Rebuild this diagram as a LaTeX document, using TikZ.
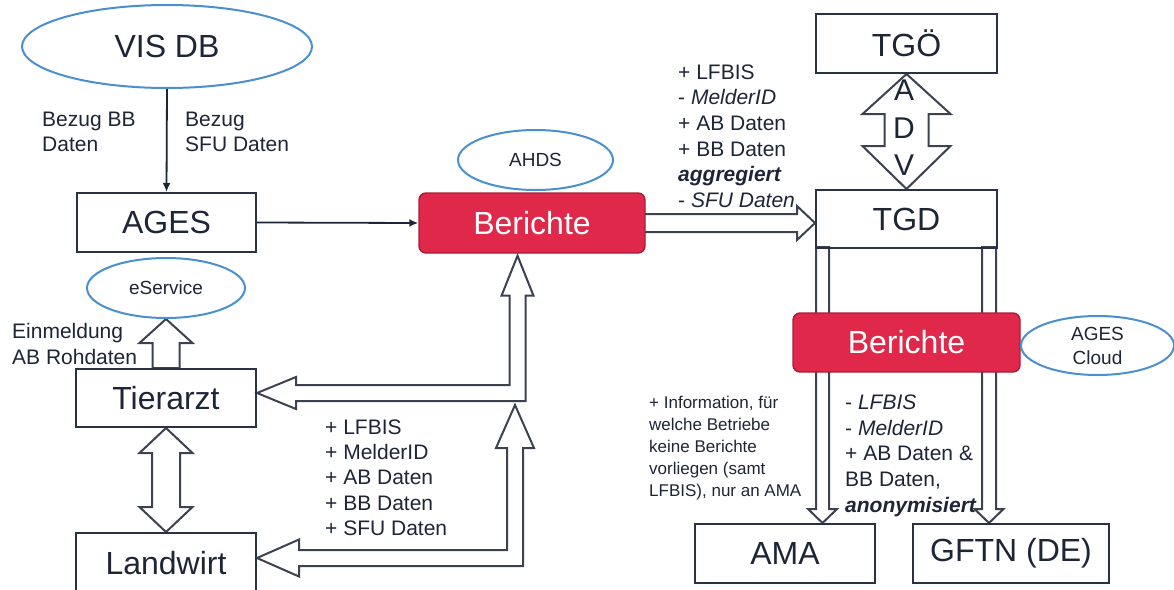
\documentclass[tikz,border=0pt]{standalone}
\usepackage{fontspec}
\setmainfont{Liberation Sans}
\usetikzlibrary{shapes.geometric,arrows.meta,calc,backgrounds}
\definecolor{ink}{HTML}{1E2536}
\definecolor{boxline}{HTML}{2A3142}
\definecolor{arrline}{HTML}{3D4250}
\definecolor{ellblue}{HTML}{4A90D0}
\definecolor{crimson}{HTML}{E0284B}
\definecolor{crimsonline}{HTML}{A81E36}
\newcommand{\myfs}[2]{\fontsize{#1}{#2}\selectfont}
\begin{document}
\begin{tikzpicture}[x=1pt,y=-1pt,
  box/.style={draw=boxline,line width=2pt,inner sep=0pt,text=ink,font=\myfs{32}{38}},
  bubble/.style={ellipse,draw=ellblue,line width=2pt,inner sep=0pt,text=ink,font=\myfs{19}{23}},
  report/.style={rounded corners=7pt,fill=crimson,draw=crimsonline,line width=1.4pt,inner sep=0pt,text=white,font=\myfs{32}{38}},
  txt/.style={inner sep=0pt,anchor=north west,align=left,text=ink,font=\myfs{21}{25.6}},
  blockarrow/.style={draw=arrline,line width=2pt,fill=white,line join=miter},
  thinarrow/.style={draw=ink,line width=1.8pt,-{Latex[length=9pt,width=8pt]}}]
\useasboundingbox (0,0) rectangle (1174,589);

% nodes
\node[bubble,minimum width=290,minimum height=83,font=\myfs{32}{38}] (visdb) at (167,46.5) {VIS DB};
\node[box,minimum width=179,minimum height=59] (ages) at (166.5,222.5) {AGES};
\node[report,minimum width=226,minimum height=60] (ber1) at (532,223) {Berichte};
\node[bubble,minimum width=155,minimum height=60] (ahds) at (535.5,160) {AHDS};
\node[box,minimum width=181,minimum height=59] (tgo) at (906.5,43.5) {TGÖ};
\node[box,minimum width=181,minimum height=58] (tgd) at (906.5,219) {TGD};
\node[bubble,minimum width=158,minimum height=60] (eserv) at (166,288) {eService};
\node[box,minimum width=180,minimum height=58] (tier) at (166,398) {Tierarzt};
\node[box,minimum width=180,minimum height=60] (land) at (166,563) {Landwirt};
\node[report,minimum width=227,minimum height=59] (ber2) at (906.5,342.5) {Berichte};
\node[bubble,minimum width=153,minimum height=59,align=center,font=\myfs{19}{24}] (cloud) at (1097.5,345.5) {AGES\\Cloud};
\node[box,minimum width=180,minimum height=59] (ama) at (785,553.5) {AMA};
\node[box,minimum width=196,minimum height=59] (gftn) at (1011,553.5) {GFTN (DE)};

% ADV letters
\node[text=ink,font=\myfs{30}{36},inner sep=0pt] (advA) at (904,90) {A};
\node[text=ink,font=\myfs{30}{36},inner sep=0pt] (advD) at (904,128) {D};
\node[text=ink,font=\myfs{30}{36},inner sep=0pt] (advV) at (904,165) {V};

% text labels
\node[txt] (bzbb) at (42,111.5) {Bezug BB\\Daten};
\node[txt] (bzsfu) at (185,111.5) {Bezug\\SFU Daten};
\node[txt,font=\myfs{21}{26}] (einm) at (12,323) {Einmeldung\\AB Rohdaten};
\node[txt,font=\myfs{21}{25.25}] (listl) at (325,419.5) {+ LFBIS\\+ MelderID\\+ AB Daten\\+ BB Daten\\+ SFU Daten};
\node[txt] (listtr) at (678,64.5) {+ LFBIS\\- \textit{MelderID}\\+ AB Daten\\+ BB Daten\\\textbf{\textit{aggregiert}}\\- \textit{SFU Daten}};
\node[txt,font=\myfs{17}{22}] (amanote) at (649,396) {+ Information, für\\welche Betriebe\\keine Berichte\\vorliegen (samt\\LFBIS), nur an AMA};
\node[txt,font=\myfs{21}{25.75}] (listr) at (845,394.5) {- \textit{LFBIS}\\- \textit{MelderID}\\+ AB Daten \&\\BB Daten,\\\textbf{\textit{anonymisiert}}};

% thin arrows
\draw[thinarrow] (visdb.south) -- (ages.north);
\draw[thinarrow] (ages.east) -- (ber1.west);

% block arrows
\begin{scope}[on background layer]
\fill[white] (0,0) rectangle (1174,589);
% ADV double arrow
\coordinate (advT) at (tgo.south);
\coordinate (advB) at (tgd.north);
\draw[blockarrow] (advT) -- ++(44,40) -- ++(-22,0) -- ($(advB)+(22,-43)$) -- ++(22,0) -- (advB) -- ++(-44,-43) -- ++(22,0) -- ($(advT)+(-22,40)$) -- ++(-22,0) -- cycle;
% Berichte -> TGD
\coordinate (r1s) at (ber1.east);
\coordinate (r1t) at (tgd.west |- ber1.east);
\draw[blockarrow] ($(r1s)+(-2,-9)$) -- ($(r1t)+(-18,-9)$) -- ++(0,-8) -- (r1t) -- ++(-18,17) -- ++(0,-8) -- ($(r1s)+(-2,9)$) -- cycle;
% TGD -> AMA
\coordinate (dl) at ($(tgd.south west)+(7.5,0)$);
\coordinate (dlt) at (dl |- ama.north);
\draw[blockarrow] ($(dl)+(-6.5,-2)$) -- ($(dlt)+(-6.5,-14)$) -- ++(-8,0) -- (dlt) -- ++(14.5,-14) -- ++(-8,0) -- ($(dl)+(6.5,-2)$) -- cycle;
% TGD -> GFTN
\coordinate (dr) at ($(tgd.south east)+(-9,0)$);
\coordinate (drt) at (dr |- gftn.north);
\draw[blockarrow] ($(dr)+(-7,-2)$) -- ($(drt)+(-7,-14)$) -- ++(-7.5,0) -- (drt) -- ++(14.5,-14) -- ++(-7.5,0) -- ($(dr)+(7,-2)$) -- cycle;
% Tierarzt -> eService
\coordinate (eu) at (tier.north);
\coordinate (et) at (eserv.south);
\draw[blockarrow] ($(eu)+(-13.5,0)$) -- ($(et)+(-13.5,24)$) -- ++(-13,0) -- (et) -- ++(26.5,24) -- ++(-13,0) -- ($(eu)+(13.5,0)$) -- cycle;
% Tierarzt <-> Landwirt
\coordinate (tl1) at (tier.south);
\coordinate (tl2) at (land.north);
\draw[blockarrow] (tl1) -- ++(26.5,25) -- ++(-12.5,0) -- ($(tl2)+(14,-25)$) -- ++(12.5,0) -- (tl2) -- ++(-26.5,-25) -- ++(12.5,0) -- ($(tl1)+(-14,25)$) -- ++(-12.5,0) -- cycle;
% Tierarzt <-> Berichte (bent)
\coordinate (a1L) at ($(tier.east)+(0,-5)$);
\coordinate (a1U) at ($(ber1.south)+(-14.5,2)$);
\draw[blockarrow] (a1L) -- ++(39,-16) -- ++(0,8) -- ($(a1U|-a1L)+(-8,-8)$) -- ($(a1U)+(-8,40)$) -- ++(-8,0) -- (a1U) -- ++(16,40) -- ++(-8,0) -- ($(a1U|-a1L)+(8,8)$) -- ($(a1L)+(39,8)$) -- ++(0,8) -- cycle;
% Landwirt <-> (bent)
\coordinate (a2L) at ($(land.east)+(0,-5)$);
\coordinate (a2U) at ($(a1U|-a1L)+(-2.5,12)$);
\draw[blockarrow] (a2L) -- ++(42,-18.5) -- ++(0,10.5) -- ($(a2U|-a2L)+(-8,-8)$) -- ($(a2U)+(-8,43)$) -- ++(-11,0) -- (a2U) -- ++(19,43) -- ++(-11,0) -- ($(a2U|-a2L)+(8,8)$) -- ($(a2L)+(42,8)$) -- ++(0,10.5) -- cycle;
\end{scope}
\end{tikzpicture}
\end{document}
